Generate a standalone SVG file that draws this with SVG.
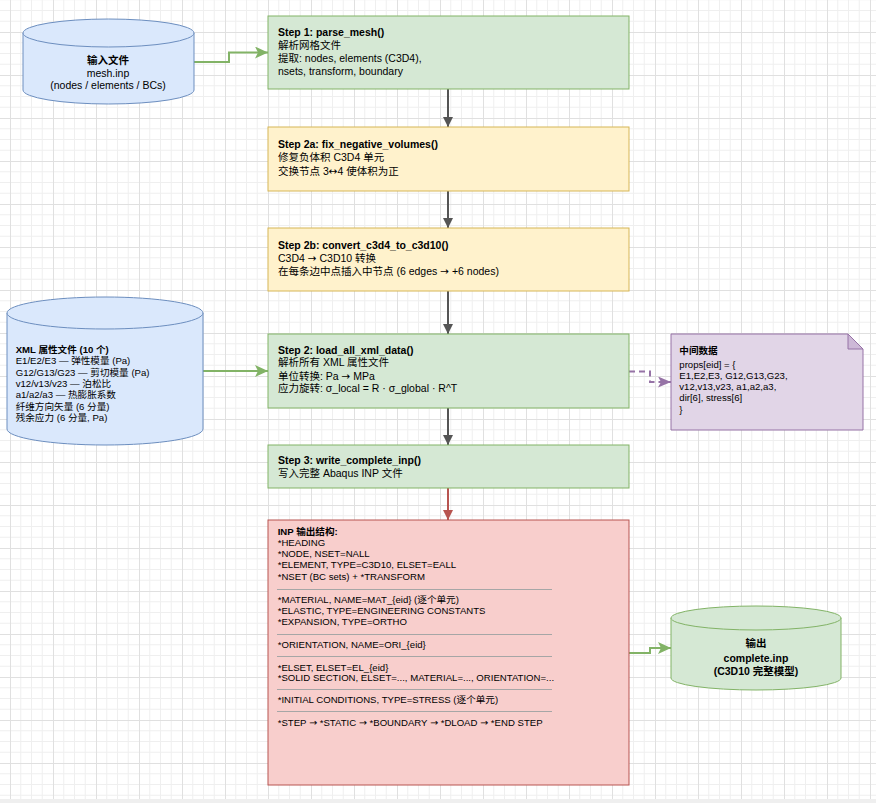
<svg xmlns="http://www.w3.org/2000/svg" width="876" height="803" viewBox="0 0 876 803">
<defs>
<style>
text{font-family:"Liberation Sans","Noto Sans CJK SC",sans-serif;fill:#000}
.t{font-size:10.5px}
.s{font-size:9.6px}
.b{font-weight:bold}
.c{text-anchor:middle}
.ar{font-family:"DejaVu Sans",sans-serif}
.box{stroke-width:1}
.green{fill:#d5e8d4;stroke:#82b366}
.yellow{fill:#fff2cc;stroke:#d6b656}
.red{fill:#f8cecc;stroke:#b85450}
.blue{fill:#dae8fc;stroke:#6c8ebf}
.purple{fill:#e1d5e7;stroke:#9673a6}
.sep{stroke:#a6a6a6;stroke-width:1}
.e{fill:none;stroke-width:2}
</style>
<pattern id="grid" x="10" y="32" width="43" height="43" patternUnits="userSpaceOnUse">
<path d="M10.75,0V43M21.5,0V43M32.25,0V43M0,10.75H43M0,21.5H43M0,32.25H43" stroke="#efefef" stroke-width="1" fill="none"/>
<path d="M0.5,0V43M0,0.5H43" stroke="#e0e0e0" stroke-width="1" fill="none"/>
</pattern>
<marker id="aGray" markerUnits="userSpaceOnUse" markerWidth="10" markerHeight="10" refX="10" refY="5" orient="auto"><path d="M0,0L10,5L0,10Z" fill="#555"/></marker>
<marker id="aRed" markerUnits="userSpaceOnUse" markerWidth="10" markerHeight="10" refX="10" refY="5" orient="auto"><path d="M0,0L10,5L0,10Z" fill="#b85450"/></marker>
<marker id="aGreen" markerUnits="userSpaceOnUse" markerWidth="13" markerHeight="12" refX="13" refY="6" orient="auto"><path d="M0,0L13,6L0,12L3,6Z" fill="#82b366"/></marker>
<marker id="aPurple" markerUnits="userSpaceOnUse" markerWidth="13" markerHeight="11" refX="13" refY="5.5" orient="auto"><path d="M0,0L13,5.5L0,11L3,5.5Z" fill="#9673a6"/></marker>
</defs>
<rect x="0" y="0" width="876" height="803" fill="#fff"/>
<rect x="0" y="0" width="876" height="799" fill="url(#grid)"/>
<rect x="0" y="799" width="876" height="4" fill="#efefef"/>

<g id="connectors">
<path class="e" stroke="#82b366" d="M194,62H229V52.5H268" marker-end="url(#aGreen)"/>
<path class="e" stroke="#555" d="M448,89V127" marker-end="url(#aGray)"/>
<path class="e" stroke="#555" d="M448,191V228" marker-end="url(#aGray)"/>
<path class="e" stroke="#555" d="M448,291V334" marker-end="url(#aGray)"/>
<path class="e" stroke="#82b366" d="M203,371H268" marker-end="url(#aGreen)"/>
<path class="e" stroke="#9673a6" stroke-dasharray="6 4" d="M629,371.5H650V382H671" marker-end="url(#aPurple)"/>
<path class="e" stroke="#555" d="M448,408V445" marker-end="url(#aGray)"/>
<path class="e" stroke="#b85450" d="M448,488V520" marker-end="url(#aRed)"/>
<path class="e" stroke="#82b366" d="M629,653H650V648H671" marker-end="url(#aGreen)"/>
</g>

<g id="input">
<path class="box blue" d="M23,33V90A85.5,14 0 0 0 194,90V33"/>
<ellipse class="box blue" cx="108.5" cy="33" rx="85.5" ry="14"/>
<text class="t b c" x="108" y="63.5">输入文件</text>
<text class="t c" x="108" y="76.5">mesh.inp</text>
<text class="t c" x="108" y="89">(nodes / elements / BCs)</text>
</g>

<g id="step1">
<rect class="box green" x="268" y="16" width="361" height="73"/>
<text class="t b" x="278" y="36">Step 1: parse_mesh()</text>
<text class="t" x="278" y="48.8">解析网格文件</text>
<text class="t" x="278" y="62">提取: nodes, elements (C3D4),</text>
<text class="t" x="278" y="74.7">nsets, transform, boundary</text>
</g>

<g id="step2a">
<rect class="box yellow" x="268" y="127" width="361" height="64"/>
<text class="t b" x="278" y="147.8">Step 2a: fix_negative_volumes()</text>
<text class="t" x="278" y="161.3">修复负体积 C3D4 单元</text>
<text class="t" x="278" y="174.8">交换节点 3<tspan class="ar">↔</tspan>4 使体积为正</text>
</g>

<g id="step2b">
<rect class="box yellow" x="268" y="228" width="361" height="63"/>
<text class="t b" x="278" y="249.3">Step 2b: convert_c3d4_to_c3d10()</text>
<text class="t" x="278" y="262">C3D4 <tspan class="ar">→</tspan> C3D10 转换</text>
<text class="t" x="278" y="275">在每条边中点插入中节点 (6 edges <tspan class="ar">→</tspan> +6 nodes)</text>
</g>

<g id="xml">
<path class="box blue" d="M7,313V429A98,16 0 0 0 203,429V313"/>
<ellipse class="box blue" cx="105" cy="313" rx="98" ry="16"/>
<text class="s b" x="15.7" y="352.7">XML 属性文件 (10 个)</text>
<text class="s" x="15.7" y="364.1">E1/E2/E3 — 弹性模量 (Pa)</text>
<text class="s" x="15.7" y="375.5">G12/G13/G23 — 剪切模量 (Pa)</text>
<text class="s" x="15.7" y="386.9">v12/v13/v23 — 泊松比</text>
<text class="s" x="15.7" y="398.3">a1/a2/a3 — 热膨胀系数</text>
<text class="s" x="15.7" y="409.7">纤维方向矢量 (6 分量)</text>
<text class="s" x="15.7" y="421.1">残余应力 (6 分量, Pa)</text>
</g>

<g id="step2">
<rect class="box green" x="268" y="334" width="361" height="74"/>
<text class="t b" x="278" y="354">Step 2: load_all_xml_data()</text>
<text class="t" x="278" y="366.3">解析所有 XML 属性文件</text>
<text class="t" x="278" y="379.7">单位转换: Pa <tspan class="ar">→</tspan> MPa</text>
<text class="t" x="278" y="392.3">应力旋转: σ_local = R · σ_global · R^T</text>
</g>

<g id="note">
<path class="box purple" d="M671,334H848L863,349V430H671Z"/>
<path class="box" d="M848,334V349H863Z" fill="#cdb8d7" stroke="#9673a6"/>
<text class="s b" x="679.3" y="354.3">中间数据</text>
<text class="s" x="679.3" y="367.7">props[eid] = {</text>
<text class="s" x="679.3" y="379">E1,E2,E3, G12,G13,G23,</text>
<text class="s" x="679.3" y="390.2">v12,v13,v23, a1,a2,a3,</text>
<text class="s" x="679.3" y="401.4">dir[6], stress[6]</text>
<text class="s" x="679.3" y="413.3">}</text>
</g>

<g id="step3">
<rect class="box green" x="268" y="445" width="361" height="43"/>
<text class="t b" x="278" y="464">Step 3: write_complete_inp()</text>
<text class="t" x="278" y="476.5">写入完整 Abaqus INP 文件</text>
</g>

<g id="inp">
<rect class="box red" x="268" y="520" width="361" height="265"/>
<text class="s b" x="277.7" y="535">INP 输出结构:</text>
<text class="s" x="277.7" y="546.3">*HEADING</text>
<text class="s" x="277.7" y="557.3">*NODE, NSET=NALL</text>
<text class="s" x="277.7" y="568.3">*ELEMENT, TYPE=C3D10, ELSET=EALL</text>
<text class="s" x="277.7" y="580">*NSET (BC sets) + *TRANSFORM</text>
<line class="sep" x1="277" y1="589.5" x2="552" y2="589.5"/>
<text class="s" x="277.7" y="602.7">*MATERIAL, NAME=MAT_{eid} (逐个单元)</text>
<text class="s" x="277.7" y="614">*ELASTIC, TYPE=ENGINEERING CONSTANTS</text>
<text class="s" x="277.7" y="625">*EXPANSION, TYPE=ORTHO</text>
<line class="sep" x1="277" y1="634.5" x2="552" y2="634.5"/>
<text class="s" x="277.7" y="647.7">*ORIENTATION, NAME=ORI_{eid}</text>
<line class="sep" x1="277" y1="656.5" x2="552" y2="656.5"/>
<text class="s" x="277.7" y="670.7">*ELSET, ELSET=EL_{eid}</text>
<text class="s" x="277.7" y="681">*SOLID SECTION, ELSET=..., MATERIAL=..., ORIENTATION=...</text>
<line class="sep" x1="277" y1="689.5" x2="552" y2="689.5"/>
<text class="s" x="277.7" y="703.3">*INITIAL CONDITIONS, TYPE=STRESS (逐个单元)</text>
<line class="sep" x1="277" y1="711.5" x2="552" y2="711.5"/>
<text class="s" x="277.7" y="725.7">*STEP <tspan class="ar">→</tspan> *STATIC <tspan class="ar">→</tspan> *BOUNDARY <tspan class="ar">→</tspan> *DLOAD <tspan class="ar">→</tspan> *END STEP</text>
</g>

<g id="output">
<path class="box green" d="M671,618V678A85,12 0 0 0 841,678V618"/>
<ellipse class="box green" cx="756" cy="618" rx="85" ry="12"/>
<text class="t b c" x="756" y="646.7">输出</text>
<text class="t b c" x="756" y="661.7">complete.inp</text>
<text class="t b c" x="756" y="674.5">(C3D10 完整模型)</text>
</g>
</svg>
